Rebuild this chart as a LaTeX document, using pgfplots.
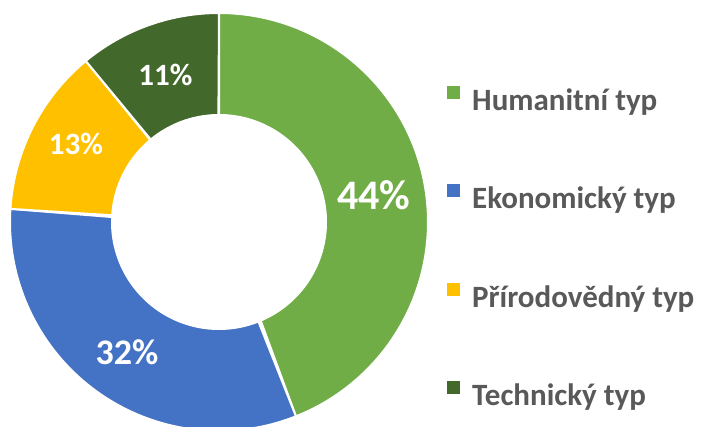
\documentclass[border=0pt]{standalone}
\usepackage{fontspec}
\setmainfont{Carlito}
\usepackage{pgfplots}
\usepackage{pgfplotstable}
\pgfplotsset{compat=1.18}
\definecolor{cHum}{HTML}{70AD47}
\definecolor{cEko}{HTML}{4472C4}
\definecolor{cPri}{HTML}{FFC000}
\definecolor{cTec}{HTML}{43682B}
\definecolor{textgray}{HTML}{595959}

\pgfplotstableread{
value
44
32
13
11
}\slices

% slice of the ring between angles #1 and #2 (degrees), centre (219,205), radii 209 / 107
\newcommand{\donutslice}[3]{%
\addplot[fill=#3, draw=white, line width=2bp, domain=0:2, samples=241, variable=\t]
 ({219+((\t<=1)?209:107)*cos(((\t<=1)?(#1+(#2-#1)*\t):(#2+(#1-#2)*(\t-1))))},
  {205+((\t<=1)?209:107)*sin(((\t<=1)?(#1+(#2-#1)*\t):(#2+(#1-#2)*(\t-1))))}) -- cycle;}

\begin{document}
\begin{tikzpicture}
\pgfplotstablegetelem{0}{value}\of\slices \pgfmathsetmacro\vA{\pgfplotsretval}
\pgfplotstablegetelem{1}{value}\of\slices \pgfmathsetmacro\vB{\pgfplotsretval}
\pgfplotstablegetelem{2}{value}\of\slices \pgfmathsetmacro\vC{\pgfplotsretval}
\pgfplotstablegetelem{3}{value}\of\slices \pgfmathsetmacro\vD{\pgfplotsretval}
\pgfmathsetmacro\aA{90}
\pgfmathsetmacro\aB{\aA-3.6*\vA}
\pgfmathsetmacro\aC{\aB-3.6*\vB}
\pgfmathsetmacro\aD{\aC-3.6*\vC}
\pgfmathsetmacro\aE{\aD-3.6*\vD}
\begin{axis}[
  width=702bp, height=427bp, scale only axis,
  xmin=0, xmax=702, ymin=0, ymax=427,
  hide axis, clip=true,
  legend cell align=left,
  legend style={at={(0.6368,0.7998)}, anchor=north west, draw=none, fill=none,
    inner sep=0pt, row sep=67bp, column sep=12bp,
    font=\fontsize{31bp}{31bp}\selectfont\bfseries, text=textgray,
    nodes={inner sep=0pt, text height=24bp, text depth=7bp}},
  legend image code/.code={\fill[#1, draw=none] (0bp,3bp) rectangle (13bp,16bp);},
]
\donutslice{\aA}{\aB}{cHum}
\addlegendentry{Humanitní typ}
\donutslice{\aB}{\aC}{cEko}
\addlegendentry{Ekonomický typ}
\donutslice{\aC}{\aD}{cPri}
\addlegendentry{Přírodovědný typ}
\donutslice{\aD}{\aE}{cTec}
\addlegendentry{Technický typ}

\node[text=white, inner sep=0pt, font=\bfseries\fontsize{42bp}{42bp}\selectfont] at (axis cs:374,232) {44\%};
\node[text=white, inner sep=0pt, font=\bfseries\fontsize{36bp}{36bp}\selectfont] at (axis cs:127,75) {32\%};
\node[text=white, inner sep=0pt, font=\bfseries\fontsize{31bp}{31bp}\selectfont] at (axis cs:76,283) {13\%};
\node[text=white, inner sep=0pt, font=\bfseries\fontsize{31bp}{31bp}\selectfont] at (axis cs:165.5,352) {11\%};
\end{axis}
\pgfresetboundingbox
\path[use as bounding box] (current axis.south west) rectangle (current axis.north east);
\end{tikzpicture}
\end{document}
